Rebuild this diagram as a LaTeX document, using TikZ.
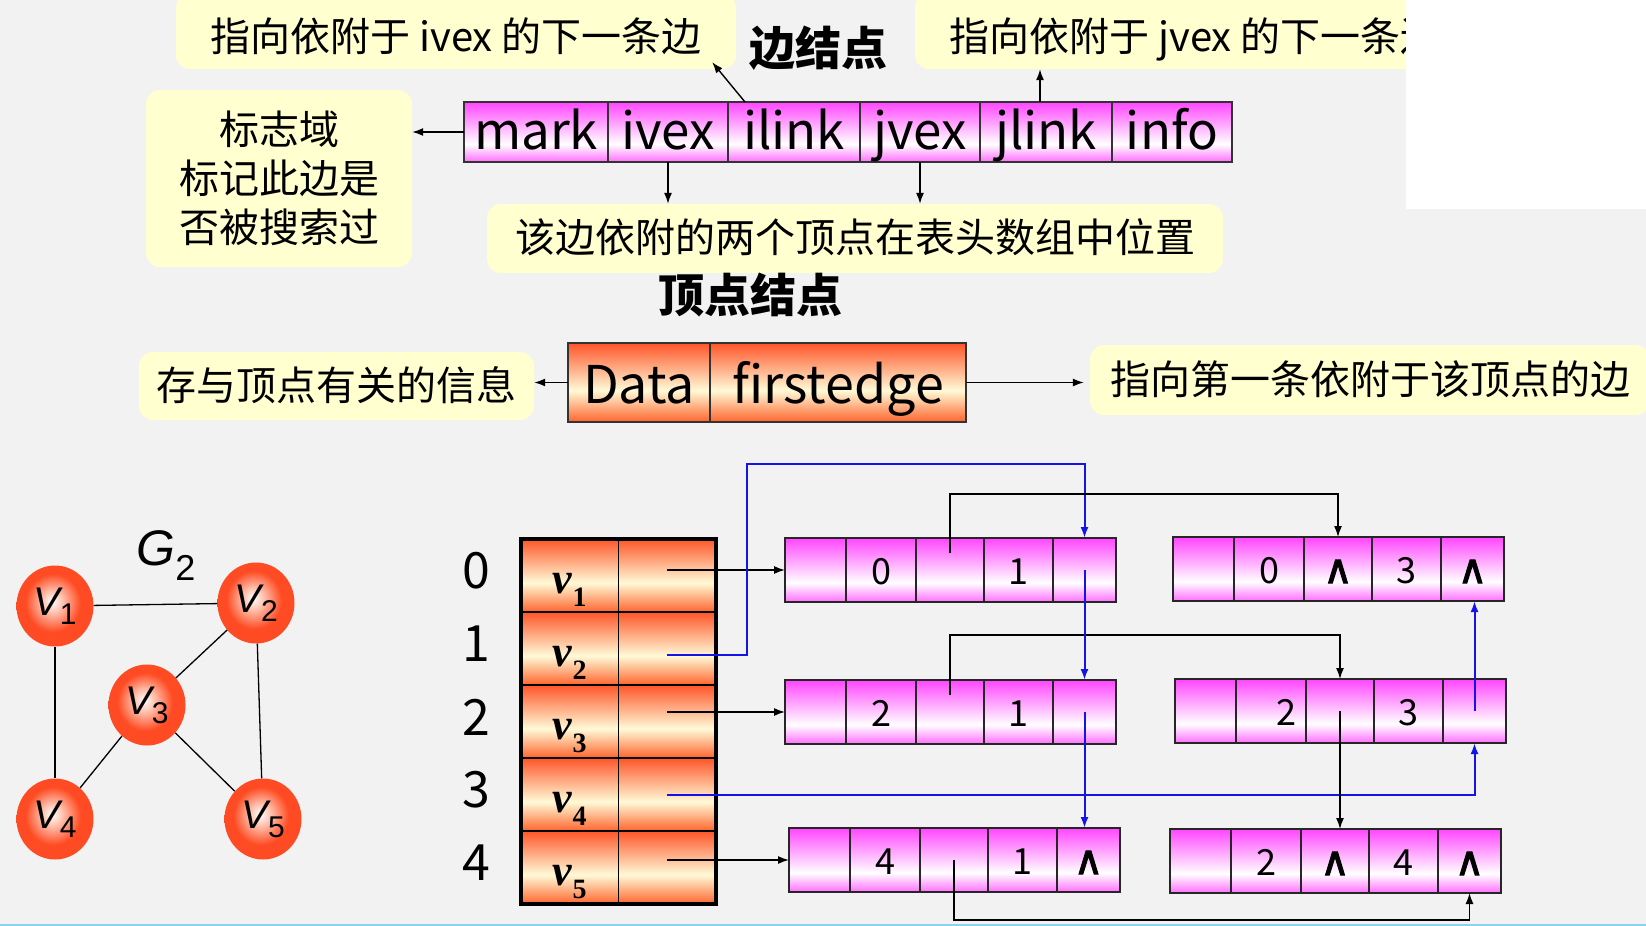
\documentclass[tikz,border=0pt]{standalone}
\usepackage{fontspec}
\setmainfont{Noto Sans CJK SC}
\newfontfamily\gfont{Liberation Sans}
\newfontfamily\afont{Liberation Serif}
\newfontfamily\wfont{DejaVu Sans}[FakeBold=2.5]
\usetikzlibrary{arrows.meta,positioning,calc,shapes.geometric}

% colours and fills
\definecolor{bgray}{RGB}{242,242,242}
\definecolor{note}{RGB}{255,255,208}
\definecolor{magtop}{RGB}{255,70,255}
\definecolor{magbot}{RGB}{255,110,255}
\definecolor{orgtop}{RGB}{255,85,40}
\definecolor{orgmid}{RGB}{255,250,215}
\definecolor{orgbot}{RGB}{255,100,45}
\definecolor{ballred}{RGB}{255,75,35}
\definecolor{ballmid}{RGB}{255,190,170}
\definecolor{ptrblue}{RGB}{20,20,230}
\definecolor{frameblue}{RGB}{140,210,240}

\pgfdeclareverticalshading{magshade}{100bp}{color(0bp)=(magbot); color(25bp)=(magbot); color(40bp)=(white); color(75bp)=(magtop); color(100bp)=(magtop)}
\pgfdeclareverticalshading{orgshade}{100bp}{color(0bp)=(orgbot); color(25bp)=(orgbot); color(45bp)=(orgmid); color(75bp)=(orgtop); color(100bp)=(orgtop)}
\pgfdeclareradialshading{ballshade}{\pgfpoint{-2bp}{3bp}}{color(0bp)=(white); color(7bp)=(ballmid); color(18bp)=(ballred); color(25bp)=(ballred); color(50bp)=(ballred)}

\newcommand{\fsz}[1]{\fontsize{#1}{#1}\selectfont}
\newcommand{\nullp}{{\wfont\fsz{40}∧}}
\newcommand{\gv}[1]{V\raisebox{-0.22em}{\upshape\fsz{30}#1}}
\newcommand{\av}[1]{v\raisebox{-0.3em}{\upshape\fsz{28}#1}}

\tikzset{
  notebox/.style={fill=note, rounded corners=14pt, inner sep=0pt, align=center,
    font=\fsz{40}, text height=33pt, text depth=5pt},
  title/.style={font=\fsz{46}\bfseries},
  rec/.style={draw=black!80, line width=1.5pt, shading=magshade, minimum height=60pt,
    inner sep=0pt, outer sep=0pt, font=\fsz{51}, text height=40pt, text depth=6pt,
    anchor=north west},
  vrec/.style={draw=black!80, line width=1.5pt, shading=orgshade, minimum height=79pt,
    inner sep=0pt, outer sep=0pt, font=\fsz{52}, text height=44pt, text depth=3pt,
    anchor=north west},
  cell/.style={draw=black!85, line width=1.4pt, shading=magshade, minimum height=64pt,
    inner sep=0pt, outer sep=0pt, font=\fsz{36}, text height=30pt, text depth=2pt,
    anchor=north west},
  acell/.style={draw=black, line width=1.8pt, shading=orgshade, minimum height=73pt,
    minimum width=97.5pt, inner sep=0pt, outer sep=0pt, font=\afont\bfseries\itshape\fsz{44},
    text height=40pt, text depth=5pt, anchor=north west},
  vtx/.style={ellipse, minimum width=77pt, minimum height=81pt, shading=ballshade,
    inner sep=0pt, font=\gfont\itshape\fsz{40}},
  gedge/.style={line width=1.3pt},
  ptr/.style={line width=1.4pt, -{Latex[length=11pt,width=8pt]}},
  bptr/.style={ptrblue, line width=2pt, -{Latex[length=11pt,width=8pt]}},
  lbl/.style={font=\fsz{50}},
}

% one edge node: name, position, ivex, ilink, jvex, jlink
\newcommand{\enode}[6]{%
  \node[cell, minimum width=61pt] (#1-1) at (#2) {};
  \node[cell, minimum width=70pt] (#1-2) at (#1-1.north east) {#3};
  \node[cell, minimum width=68pt] (#1-3) at (#1-2.north east) {#4};
  \node[cell, minimum width=69pt] (#1-4) at (#1-3.north east) {#5};
  \node[cell, minimum width=63pt] (#1-5) at (#1-4.north east) {#6};
}

\begin{document}
\begin{tikzpicture}[x=1pt,y=-1pt]
  \useasboundingbox (0,0) rectangle (1646,926);
  \fill[bgray] (0,0) rectangle (1646,926);

  % edge node layout
  \node[notebox, minimum width=560pt, minimum height=75pt, text height=42pt, text depth=2pt]
    (nilink) at (456,31.5) {指向依附于 ivex 的下一条边};
  \node[notebox, minimum width=560pt, minimum height=75pt, text height=42pt, text depth=2pt]
    (njlink) at (1195,31.5) {指向依附于 jvex 的下一条边};
  \fill[white] (1406,0) rectangle (1646,209);
  \node[title] (etitle) at (818,48) {边结点};

  \node[rec, minimum width=144pt] (fmark) at (464,102) {mark};
  \node[rec, minimum width=120pt] (fivex) at (fmark.north east) {ivex};
  \node[rec, minimum width=132pt] (filink) at (fivex.north east) {ilink};
  \node[rec, minimum width=120pt] (fjvex) at (filink.north east) {jvex};
  \node[rec, minimum width=132pt] (fjlink) at (fjvex.north east) {jlink};
  \node[rec, minimum width=120pt] (finfo) at (fjlink.north east) {info};

  \node[notebox, minimum width=266pt, minimum height=177pt, font=\fontsize{40}{49}\selectfont,
    text height=, text depth=] (nmark) at (279,178.5) {标志域\\标记此边是\\否被搜索过};
  \node[notebox, minimum width=736pt, minimum height=69pt] (npos) at (855,238.5)
    {该边依附的两个顶点在表头数组中位置};

  \draw[ptr] (fmark.west) -- (fmark.west -| nmark.east);
  \draw[ptr] ([xshift=17pt]filink.north west) -- ([xshift=-24pt,yshift=7pt]nilink.south east);
  \draw[ptr] ([xshift=-6pt]fjlink.north) -- ([xshift=-6pt]fjlink.north |- njlink.south);
  \draw[ptr] (fivex.south) -- (fivex.south |- npos.north);
  \draw[ptr] (fjvex.south) -- (fjvex.south |- npos.north);

  % vertex node layout
  \node[title] (vtitle) at (750,295) {顶点结点};
  \node[vrec, minimum width=142pt] (vdata) at (568,343) {Data};
  \node[vrec, minimum width=256pt] (vfirst) at (vdata.north east) {firstedge};
  \node[notebox, minimum width=395pt, minimum height=68pt] (ndata) at (336.5,386)
    {存与顶点有关的信息};
  \node[notebox, minimum width=560pt, minimum height=70pt] (nfirst) at (1370,380)
    {指向第一条依附于该顶点的边};
  \draw[ptr] (vdata.west) -- (vdata.west -| ndata.east);
  \draw[ptr, shorten >=6pt] (vfirst.east) -- (vfirst.east -| nfirst.west);

  % graph G2
  \node[font=\gfont\itshape\fsz{50}] (gname) at (166,556) {G\raisebox{-0.3em}{\upshape\fsz{36}2}};
  \node[vtx] (g1) at (55,606) {\gv{1}};
  \node[vtx] (g2) at (256,603) {\gv{2}};
  \node[vtx] (g3) at (147,705) {\gv{3}};
  \node[vtx] (g4) at (55,819) {\gv{4}};
  \node[vtx] (g5) at (263,819) {\gv{5}};
  \draw[gedge] (g1) -- (g2);
  \draw[gedge] (g1) -- (g4);
  \draw[gedge] (g2) -- (g3);
  \draw[gedge] (g2) -- (g5);
  \draw[gedge] (g3) -- (g4);
  \draw[gedge] (g3) -- (g5);

  % head array
  \foreach \i/\vi in {0/1,1/2,2/3,3/4,4/5} {
    \node[acell] (al\i) at (521,539+73*\i) {\av{\vi}};
    \node[acell, line width=1.4pt] (ar\i) at (al\i.north east) {};
    \node[lbl] (idx\i) at (476,571+73*\i) {\i};
  }
  \draw[line width=3.5pt] (al0.north west) rectangle (ar4.south east);

  % edge lists
  \enode{e01}{785,538}{0}{}{1}{}
  \enode{e03}{1173,537}{0}{\nullp}{3}{\nullp}
  \enode{e21}{785,680}{2}{}{1}{}
  \enode{e23}{1175,679}{\hspace*{30pt}2}{}{3}{}
  \enode{e41}{789,828}{4}{}{1}{\nullp}
  \enode{e24}{1170,829}{2}{\nullp}{4}{\nullp}

  \coordinate (b1) at (747,464);
  \coordinate (t1) at ([yshift=44pt]e01-3.north);
  \coordinate (t2) at ([yshift=45pt]e21-3.north);
  \coordinate (t3) at ([yshift=-28pt]e41-3.south);

  \draw[ptr] (ar0.center |- e01-1.west) -- (e01-1.west);
  \draw[ptr] (ar2.center |- e21-1.west) -- (e21-1.west);
  \draw[ptr] (ar4.center |- e41-1.west) -- (e41-1.west);
  \draw[bptr] ([yshift=-6pt]ar1.center) -| (b1) -| (e01-5.north);
  \draw[bptr] (ar3.center) -| (e23-5.south);

  \draw[ptr] ([yshift=-15pt]e01-3.north) -- (t1) -| (e03-3.north);
  \draw[ptr] ([yshift=-15pt]e21-3.north) -- (t2) -| (e23-3.north);
  \draw[ptr] (e23-3.center) -- (e23-3.center |- e24-3.north);
  \draw[ptr] (e41-3.center) -- (t3) -| (e24-5.south);
  \draw[bptr] (e01-5.center) -- (e21-5.north);
  \draw[bptr] (e21-5.center) -- (e21-5.center |- e41-5.north);
  \draw[bptr] (e23-5.center) -- (e23-5.center |- e03-5.south);

  % frame line
  \fill[frameblue] (0,923.5) rectangle (1646,926);
\end{tikzpicture}
\end{document}
